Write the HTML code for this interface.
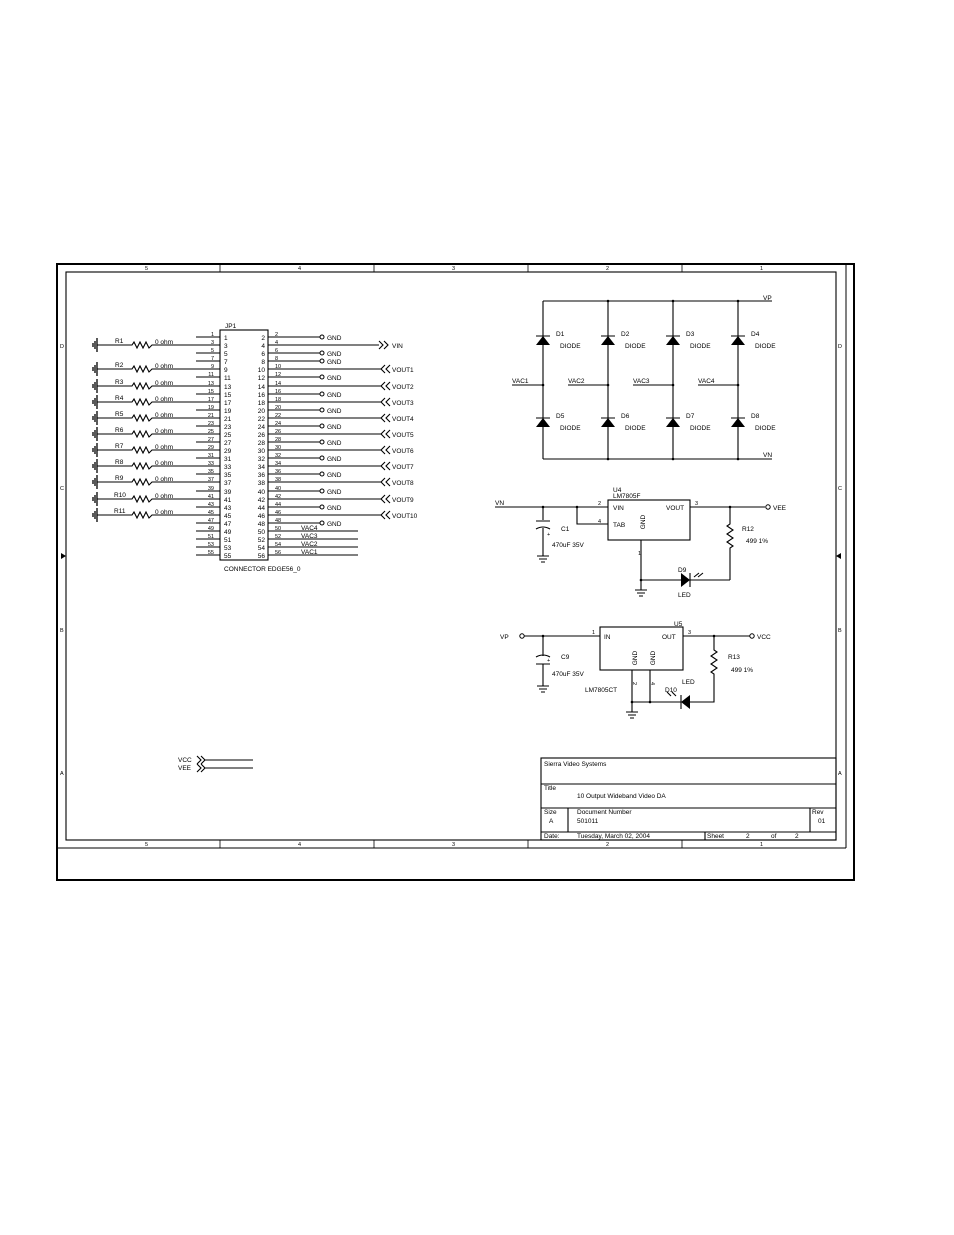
<!DOCTYPE html>
<html><head><meta charset="utf-8"><style>
html,body{margin:0;padding:0;background:#fff;}
svg{display:block;}
text{font-family:"Liberation Sans",sans-serif;font-size:6.5px;fill:#000;}
.s{font-size:5.5px;}
</style></head><body>
<svg width="954" height="1235" viewBox="0 0 954 1235" xmlns="http://www.w3.org/2000/svg">
<g fill="none" stroke="#000">
<rect x="57" y="264" width="797" height="616" stroke-width="2"/>
<rect x="66" y="272" width="770" height="568" stroke-width="1.1"/>
<line x1="846" y1="264" x2="846" y2="848" stroke-width="1"/>
<line x1="57" y1="848" x2="846" y2="848" stroke-width="1"/>
<g stroke-width="0.8">
<line x1="220" y1="264" x2="220" y2="272"/><line x1="374" y1="264" x2="374" y2="272"/><line x1="528" y1="264" x2="528" y2="272"/><line x1="682" y1="264" x2="682" y2="272"/>
<line x1="220" y1="840" x2="220" y2="848"/><line x1="374" y1="840" x2="374" y2="848"/><line x1="528" y1="840" x2="528" y2="848"/><line x1="682" y1="840" x2="682" y2="848"/>
</g>
</g>
<polygon points="66,556 61,553 61,559" fill="#000"/>
<polygon points="836,556 841,553 841,559" fill="#000"/>
<g class="s">
<text x="145" y="270" class="s">5</text><text x="298" y="270" class="s">4</text><text x="452" y="270" class="s">3</text><text x="606" y="270" class="s">2</text><text x="760" y="270" class="s">1</text>
<text x="145" y="846" class="s">5</text><text x="298" y="846" class="s">4</text><text x="452" y="846" class="s">3</text><text x="606" y="846" class="s">2</text><text x="760" y="846" class="s">1</text>
<text x="60" y="348" class="s">D</text><text x="60" y="490" class="s">C</text><text x="60" y="632" class="s">B</text><text x="60" y="775" class="s">A</text>
<text x="838" y="348" class="s">D</text><text x="838" y="490" class="s">C</text><text x="838" y="632" class="s">B</text><text x="838" y="775" class="s">A</text>
</g>

<!-- Connector -->
<g fill="none" stroke="#000" stroke-width="1.1">
<rect x="220" y="330" width="48" height="230"/>
<path d="M196 337H220M196 345H220M196 353H220M196 361H220M196 369H220M196 377H220M196 386H220M196 394H220M196 402H220M196 410H220M196 418H220M196 426H220M196 434H220M196 442H220M196 450H220M196 458H220M196 466H220M196 474H220M196 482H220M196 491H220M196 499H220M196 507H220M196 515H220M196 523H220M196 531H220M196 539H220M196 547H220M196 555H220"/>
<path d="M268 337H288M268 345H288M268 353H288M268 361H288M268 369H288M268 377H288M268 386H288M268 394H288M268 402H288M268 410H288M268 418H288M268 426H288M268 434H288M268 442H288M268 450H288M268 458H288M268 466H288M268 474H288M268 482H288M268 491H288M268 499H288M268 507H288M268 515H288M268 523H288M268 531H288M268 539H288M268 547H288M268 555H288"/>
<path d="M288 337H320M288 353H320M288 361H320M288 377H320M288 394H320M288 410H320M288 426H320M288 442H320M288 458H320M288 474H320M288 491H320M288 507H320M288 523H320"/>
<path d="M288 345H379M288 369H381M288 386H381M288 402H381M288 418H381M288 434H381M288 450H381M288 466H381M288 482H381M288 499H381M288 515H381"/>
<path d="M379 341L383 345L379 349M384 341L388 345L384 349"/>
<path d="M385 365L381 369L385 373M390 365L386 369L390 373"/>
<path d="M385 382L381 386L385 390M390 382L386 386L390 390"/>
<path d="M385 398L381 402L385 406M390 398L386 402L390 406"/>
<path d="M385 414L381 418L385 422M390 414L386 418L390 422"/>
<path d="M385 430L381 434L385 438M390 430L386 434L390 438"/>
<path d="M385 446L381 450L385 454M390 446L386 450L390 454"/>
<path d="M385 462L381 466L385 470M390 462L386 466L390 470"/>
<path d="M385 478L381 482L385 486M390 478L386 482L390 486"/>
<path d="M385 495L381 499L385 503M390 495L386 499L390 503"/>
<path d="M385 511L381 515L385 519M390 511L386 515L390 519"/>
<path d="M288 531H358M288 539H358M288 547H358M288 555H358"/>
<path d="M97 345H132l2-3 3 6 3-6 3 6 3-6 3 6 3-3H196"/>
<path d="M97 369H132l2-3 3 6 3-6 3 6 3-6 3 6 3-3H196"/>
<path d="M97 386H132l2-3 3 6 3-6 3 6 3-6 3 6 3-3H196"/>
<path d="M97 402H132l2-3 3 6 3-6 3 6 3-6 3 6 3-3H196"/>
<path d="M97 418H132l2-3 3 6 3-6 3 6 3-6 3 6 3-3H196"/>
<path d="M97 434H132l2-3 3 6 3-6 3 6 3-6 3 6 3-3H196"/>
<path d="M97 450H132l2-3 3 6 3-6 3 6 3-6 3 6 3-3H196"/>
<path d="M97 466H132l2-3 3 6 3-6 3 6 3-6 3 6 3-3H196"/>
<path d="M97 482H132l2-3 3 6 3-6 3 6 3-6 3 6 3-3H196"/>
<path d="M97 499H132l2-3 3 6 3-6 3 6 3-6 3 6 3-3H196"/>
<path d="M97 515H132l2-3 3 6 3-6 3 6 3-6 3 6 3-3H196"/>
<g stroke-width="1.3">
<path d="M97 338v14M95 341v8M93 343v4"/>
<path d="M97 362v14M95 365v8M93 367v4"/>
<path d="M97 379v14M95 382v8M93 384v4"/>
<path d="M97 395v14M95 398v8M93 400v4"/>
<path d="M97 411v14M95 414v8M93 416v4"/>
<path d="M97 427v14M95 430v8M93 432v4"/>
<path d="M97 443v14M95 446v8M93 448v4"/>
<path d="M97 459v14M95 462v8M93 464v4"/>
<path d="M97 475v14M95 478v8M93 480v4"/>
<path d="M97 492v14M95 495v8M93 497v4"/>
<path d="M97 508v14M95 511v8M93 513v4"/>
</g>
</g>
<g fill="#fff" stroke="#000" stroke-width="1">
<circle cx="322" cy="337" r="2"/><circle cx="322" cy="353" r="2"/><circle cx="322" cy="361" r="2"/><circle cx="322" cy="377" r="2"/><circle cx="322" cy="394" r="2"/><circle cx="322" cy="410" r="2"/><circle cx="322" cy="426" r="2"/><circle cx="322" cy="442" r="2"/><circle cx="322" cy="458" r="2"/><circle cx="322" cy="474" r="2"/><circle cx="322" cy="491" r="2"/><circle cx="322" cy="507" r="2"/><circle cx="322" cy="523" r="2"/>
</g>
<g>
<text x="225" y="328">JP1</text>
<text x="224" y="340">1</text><text x="224" y="348">3</text><text x="224" y="356">5</text><text x="224" y="364">7</text><text x="224" y="372">9</text><text x="224" y="380">11</text><text x="224" y="389">13</text><text x="224" y="397">15</text><text x="224" y="405">17</text><text x="224" y="413">19</text><text x="224" y="421">21</text><text x="224" y="429">23</text><text x="224" y="437">25</text><text x="224" y="445">27</text><text x="224" y="453">29</text><text x="224" y="461">31</text><text x="224" y="469">33</text><text x="224" y="477">35</text><text x="224" y="485">37</text><text x="224" y="494">39</text><text x="224" y="502">41</text><text x="224" y="510">43</text><text x="224" y="518">45</text><text x="224" y="526">47</text><text x="224" y="534">49</text><text x="224" y="542">51</text><text x="224" y="550">53</text><text x="224" y="558">55</text>
</g>
<g text-anchor="end">
<text x="265" y="340">2</text><text x="265" y="348">4</text><text x="265" y="356">6</text><text x="265" y="364">8</text><text x="265" y="372">10</text><text x="265" y="380">12</text><text x="265" y="389">14</text><text x="265" y="397">16</text><text x="265" y="405">18</text><text x="265" y="413">20</text><text x="265" y="421">22</text><text x="265" y="429">24</text><text x="265" y="437">26</text><text x="265" y="445">28</text><text x="265" y="453">30</text><text x="265" y="461">32</text><text x="265" y="469">34</text><text x="265" y="477">36</text><text x="265" y="485">38</text><text x="265" y="494">40</text><text x="265" y="502">42</text><text x="265" y="510">44</text><text x="265" y="518">46</text><text x="265" y="526">48</text><text x="265" y="534">50</text><text x="265" y="542">52</text><text x="265" y="550">54</text><text x="265" y="558">56</text>
</g>
<g text-anchor="end" class="s">
<text x="214" y="336" class="s">1</text><text x="214" y="344" class="s">3</text><text x="214" y="352" class="s">5</text><text x="214" y="360" class="s">7</text><text x="214" y="368" class="s">9</text><text x="214" y="376" class="s">11</text><text x="214" y="385" class="s">13</text><text x="214" y="393" class="s">15</text><text x="214" y="401" class="s">17</text><text x="214" y="409" class="s">19</text><text x="214" y="417" class="s">21</text><text x="214" y="425" class="s">23</text><text x="214" y="433" class="s">25</text><text x="214" y="441" class="s">27</text><text x="214" y="449" class="s">29</text><text x="214" y="457" class="s">31</text><text x="214" y="465" class="s">33</text><text x="214" y="473" class="s">35</text><text x="214" y="481" class="s">37</text><text x="214" y="490" class="s">39</text><text x="214" y="498" class="s">41</text><text x="214" y="506" class="s">43</text><text x="214" y="514" class="s">45</text><text x="214" y="522" class="s">47</text><text x="214" y="530" class="s">49</text><text x="214" y="538" class="s">51</text><text x="214" y="546" class="s">53</text><text x="214" y="554" class="s">55</text>
</g>
<g class="s">
<text x="275" y="336" class="s">2</text><text x="275" y="344" class="s">4</text><text x="275" y="352" class="s">6</text><text x="275" y="360" class="s">8</text><text x="275" y="368" class="s">10</text><text x="275" y="376" class="s">12</text><text x="275" y="385" class="s">14</text><text x="275" y="393" class="s">16</text><text x="275" y="401" class="s">18</text><text x="275" y="409" class="s">20</text><text x="275" y="417" class="s">22</text><text x="275" y="425" class="s">24</text><text x="275" y="433" class="s">26</text><text x="275" y="441" class="s">28</text><text x="275" y="449" class="s">30</text><text x="275" y="457" class="s">32</text><text x="275" y="465" class="s">34</text><text x="275" y="473" class="s">36</text><text x="275" y="481" class="s">38</text><text x="275" y="490" class="s">40</text><text x="275" y="498" class="s">42</text><text x="275" y="506" class="s">44</text><text x="275" y="514" class="s">46</text><text x="275" y="522" class="s">48</text><text x="275" y="530" class="s">50</text><text x="275" y="538" class="s">52</text><text x="275" y="546" class="s">54</text><text x="275" y="554" class="s">56</text>
</g>
<g>
<text x="327" y="340">GND</text><text x="327" y="356">GND</text><text x="327" y="364">GND</text><text x="327" y="380">GND</text><text x="327" y="397">GND</text><text x="327" y="413">GND</text><text x="327" y="429">GND</text><text x="327" y="445">GND</text><text x="327" y="461">GND</text><text x="327" y="477">GND</text><text x="327" y="494">GND</text><text x="327" y="510">GND</text><text x="327" y="526">GND</text>
<text x="392" y="348">VIN</text>
<text x="392" y="372">VOUT1</text><text x="392" y="389">VOUT2</text><text x="392" y="405">VOUT3</text><text x="392" y="421">VOUT4</text><text x="392" y="437">VOUT5</text><text x="392" y="453">VOUT6</text><text x="392" y="469">VOUT7</text><text x="392" y="485">VOUT8</text><text x="392" y="502">VOUT9</text><text x="392" y="518">VOUT10</text>
<text x="301" y="530">VAC4</text><text x="301" y="538">VAC3</text><text x="301" y="546">VAC2</text><text x="301" y="554">VAC1</text>
<text x="224" y="571">CONNECTOR EDGE56_0</text>
<text x="115" y="343">R1</text><text x="115" y="367">R2</text><text x="115" y="384">R3</text><text x="115" y="400">R4</text><text x="115" y="416">R5</text><text x="115" y="432">R6</text><text x="115" y="448">R7</text><text x="115" y="464">R8</text><text x="115" y="480">R9</text><text x="114" y="497">R10</text><text x="114" y="513">R11</text>
<text x="155" y="344">0 ohm</text><text x="155" y="368">0 ohm</text><text x="155" y="385">0 ohm</text><text x="155" y="401">0 ohm</text><text x="155" y="417">0 ohm</text><text x="155" y="433">0 ohm</text><text x="155" y="449">0 ohm</text><text x="155" y="465">0 ohm</text><text x="155" y="481">0 ohm</text><text x="155" y="498">0 ohm</text><text x="155" y="514">0 ohm</text>
</g>

<!-- Diode bridge -->
<g fill="none" stroke="#000" stroke-width="1.1">
<path d="M543 301H772M543 459H772M543 301V459M608 301V459M673 301V459M738 301V459"/>
<path d="M512 385H543M568 385H608M633 385H673M698 385H738"/>
<path d="M536 336H550M601 336H615M666 336H680M731 336H745M536 418H550M601 418H615M666 418H680M731 418H745"/>
</g>
<g fill="#000">
<polygon points="536,345 550,345 543,336"/><polygon points="601,345 615,345 608,336"/><polygon points="666,345 680,345 673,336"/><polygon points="731,345 745,345 738,336"/>
<polygon points="536,427 550,427 543,418"/><polygon points="601,427 615,427 608,418"/><polygon points="666,427 680,427 673,418"/><polygon points="731,427 745,427 738,418"/>
<circle cx="608" cy="301" r="1.3"/><circle cx="673" cy="301" r="1.3"/><circle cx="738" cy="301" r="1.3"/>
<circle cx="608" cy="459" r="1.3"/><circle cx="673" cy="459" r="1.3"/><circle cx="738" cy="459" r="1.3"/>
<circle cx="543" cy="385" r="1.3"/><circle cx="608" cy="385" r="1.3"/><circle cx="673" cy="385" r="1.3"/><circle cx="738" cy="385" r="1.3"/>
</g>
<g>
<text x="763" y="300">VP</text><text x="763" y="457">VN</text>
<text x="556" y="336">D1</text><text x="621" y="336">D2</text><text x="686" y="336">D3</text><text x="751" y="336">D4</text>
<text x="560" y="348">DIODE</text><text x="625" y="348">DIODE</text><text x="690" y="348">DIODE</text><text x="755" y="348">DIODE</text>
<text x="556" y="418">D5</text><text x="621" y="418">D6</text><text x="686" y="418">D7</text><text x="751" y="418">D8</text>
<text x="560" y="430">DIODE</text><text x="625" y="430">DIODE</text><text x="690" y="430">DIODE</text><text x="755" y="430">DIODE</text>
<text x="512" y="383">VAC1</text><text x="568" y="383">VAC2</text><text x="633" y="383">VAC3</text><text x="698" y="383">VAC4</text>
</g>

<!-- U4 -->
<g fill="none" stroke="#000" stroke-width="1.1">
<rect x="608" y="500" width="82" height="40"/>
<path d="M495 507H608M577 507V524H608M690 507H765M543 507V520M536 521H550M536 529q7-4 14 0M543 528V556"/>
<path d="M537 556H549M539 559H547M541 562H545"/>
<path d="M641 540V580H730M730 507V524l-3 2 6 4-6 4 6 4-6 4 6 4-3 2V580"/>
<path d="M635 590H647M637 593H645M639 596H643M641 580V590"/>
<path d="M690 573V587M694 577l5-4M698 577l5-4"/>
</g>
<polygon points="681,573 681,587 690,580" fill="#000"/>
<g fill="#000"><circle cx="543" cy="507" r="1.3"/><circle cx="577" cy="507" r="1.3"/><circle cx="730" cy="507" r="1.3"/><circle cx="641" cy="580" r="1.3"/></g>
<circle cx="768" cy="507" r="2.2" fill="#fff" stroke="#000" stroke-width="1"/>
<g>
<text x="495" y="505">VN</text><text x="613" y="492">U4</text><text x="613" y="498">LM7805F</text>
<text x="613" y="510">VIN</text><text x="666" y="510">VOUT</text><text x="613" y="527">TAB</text>
<text x="598" y="505" class="s">2</text><text x="598" y="523" class="s">4</text><text x="695" y="505" class="s">3</text><text x="638" y="555" class="s">1</text>
<text x="561" y="531">C1</text><text x="552" y="547">470uF 35V</text><text x="547" y="536" class="s">+</text>
<text x="742" y="531">R12</text><text x="746" y="543">499 1%</text>
<text x="678" y="572">D9</text><text x="678" y="597">LED</text><text x="773" y="510">VEE</text>
<text x="0" y="0" transform="translate(645,522) rotate(-90)" text-anchor="middle">GND</text>
</g>

<!-- U5 -->
<g fill="none" stroke="#000" stroke-width="1.1">
<rect x="600" y="627" width="83" height="43"/>
<path d="M524 636H600M683 636H750M543 636V656M536 657q7-4 14 0M536 664H550M543 664V686"/>
<path d="M537 686H549M539 689H547M541 692H545"/>
<path d="M632 670V712M650 670V702M632 702H690M690 702H714V674l-3-2 6-4-6-4 6-4-6-4 6-4-3-2V636"/>
<path d="M626 712H638M628 715H636M630 718H634"/>
<path d="M681 695V709M672 692l4 4M667 692l4 4"/>
</g>
<polygon points="690,695 690,709 681,702" fill="#000"/>
<g fill="#000"><circle cx="543" cy="636" r="1.3"/><circle cx="714" cy="636" r="1.3"/><circle cx="632" cy="702" r="1.3"/><circle cx="650" cy="702" r="1.3"/></g>
<circle cx="522" cy="636" r="2.2" fill="#fff" stroke="#000" stroke-width="1"/>
<circle cx="752" cy="636" r="2.2" fill="#fff" stroke="#000" stroke-width="1"/>
<g>
<text x="500" y="639">VP</text><text x="674" y="626">U5</text><text x="604" y="639">IN</text><text x="662" y="639">OUT</text>
<text x="592" y="634" class="s">1</text><text x="688" y="634" class="s">3</text>
<text x="561" y="659">C9</text><text x="552" y="676">470uF 35V</text><text x="547" y="662" class="s">+</text>
<text x="585" y="692">LM7805CT</text><text x="728" y="659">R13</text><text x="731" y="672">499 1%</text>
<text x="682" y="684">LED</text><text x="665" y="692">D10</text><text x="757" y="639">VCC</text>
<text x="0" y="0" transform="translate(637,658) rotate(-90)" text-anchor="middle">GND</text>
<text x="0" y="0" transform="translate(655,658) rotate(-90)" text-anchor="middle">GND</text>
<text x="0" y="0" transform="translate(633,682) rotate(90)" class="s">2</text>
<text x="0" y="0" transform="translate(651,682) rotate(90)" class="s">4</text>
</g>

<!-- VCC VEE -->
<g fill="none" stroke="#000" stroke-width="1.1">
<path d="M197 756l4 4-4 4M201 756l4 4-4 4M197 764l4 4-4 4M201 764l4 4-4 4M205 760H253M205 768H253"/>
</g>
<text x="178" y="762">VCC</text><text x="178" y="770">VEE</text>

<!-- title block -->
<g fill="none" stroke="#000" stroke-width="1.1">
<rect x="541" y="758" width="295" height="82"/>
<path d="M541 784H836M541 808H836M541 832H836M568 808V832M810 808V832M705 832V840"/>
</g>
<g>
<text x="544" y="766">Sierra Video Systems</text>
<text x="544" y="790">Title</text><text x="577" y="798">10 Output Wideband Video DA</text>
<text x="544" y="814">Size</text><text x="549" y="823">A</text>
<text x="577" y="814">Document Number</text><text x="577" y="823">501011</text>
<text x="812" y="814">Rev</text><text x="818" y="823">01</text>
<text x="544" y="838">Date:</text><text x="577" y="838">Tuesday, March 02, 2004</text>
<text x="707" y="838">Sheet</text><text x="746" y="838">2</text><text x="771" y="838">of</text><text x="795" y="838">2</text>
</g>
</svg>
</body></html>
